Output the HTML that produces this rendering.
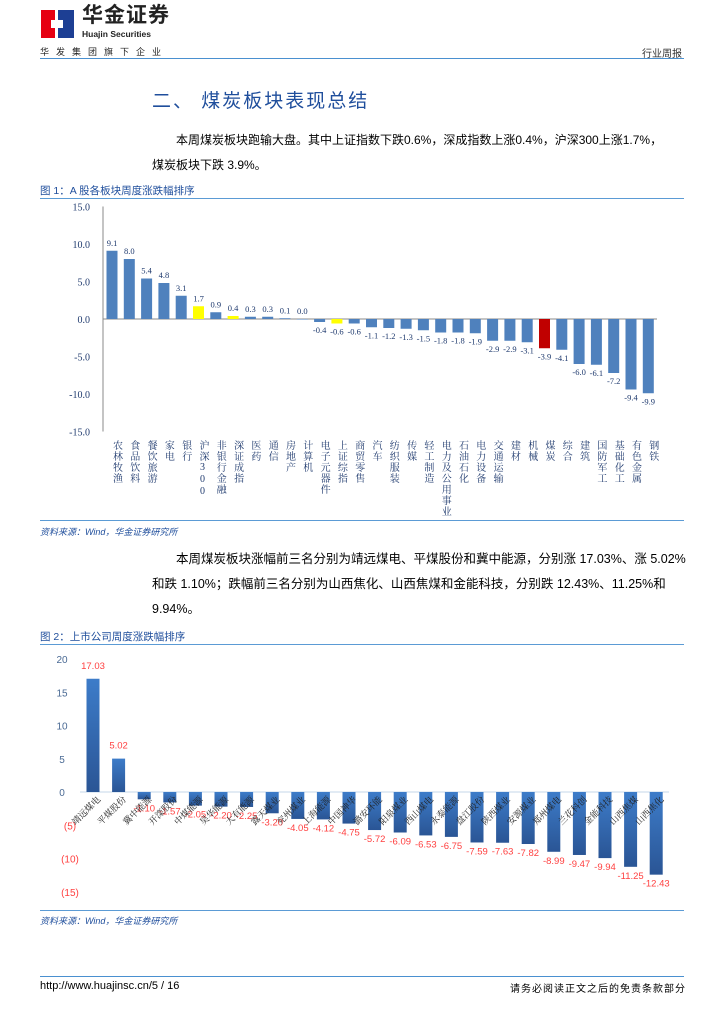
<!DOCTYPE html>
<html><head><meta charset="utf-8">
<style>
*{margin:0;padding:0;box-sizing:border-box}
body{width:724px;height:1024px;background:#fff;position:relative;font-family:"Liberation Sans","Noto Sans CJK SC",sans-serif;overflow:hidden;color:#000}
.abs{position:absolute}
svg text{font-family:"Liberation Serif","Noto Serif CJK SC","Noto Sans CJK SC",serif}
</style></head><body>
<div class="abs" style="left:41px;top:10px;width:33px;height:28px">
 <svg width="33" height="28"><rect x="0" y="0" width="14" height="28" fill="#e60012"/><rect x="17" y="0" width="16" height="28" fill="#1d3f94"/><rect x="10" y="10" width="12" height="8" fill="#fff"/></svg>
</div>
<div class="abs" style="left:82px;top:4px;font-size:21px;line-height:24px;font-weight:bold;letter-spacing:1px;color:#222">华金证券</div>
<div class="abs" style="left:82px;top:29px;font-size:8.5px;line-height:10px;font-weight:bold;color:#222">Huajin Securities</div>
<div class="abs" style="left:40px;top:45px;font-size:9px;letter-spacing:7px;color:#222">华发集团旗下企业</div>
<div class="abs" style="left:642px;top:45px;font-size:10px;color:#333">行业周报</div>
<div class="abs" style="left:40px;top:58px;width:644px;height:1px;background:#4a90d0"></div>

<div class="abs" style="left:152px;top:86px;font-size:19px;color:#1f4e9c;letter-spacing:2px">二、 煤炭板块表现总结</div>
<div class="abs" style="left:152px;top:128px;width:560px;font-size:12px;line-height:25px;white-space:nowrap">&#12288;&#12288;本周煤炭板块跑输大盘。其中上证指数下跌0.6%，深成指数上涨0.4%，沪深300上涨1.7%，<br>煤炭板块下跌 3.9%。</div>

<div class="abs" style="left:40px;top:183px;font-size:10.5px;color:#1f4e9c">图 1：A 股各板块周度涨跌幅排序</div>
<div class="abs" style="left:40px;top:198px;width:644px;height:1px;background:#5b9bd5"></div>
<svg class="abs" id="c1" style="left:0;top:0" width="724" height="540"></svg>
<div class="abs" style="left:40px;top:525px;font-size:9px;color:#1f4e9c;font-style:italic">资料来源：Wind，华金证券研究所</div>
<div class="abs" style="left:40px;top:520px;width:644px;height:1px;background:#5b9bd5"></div>

<div class="abs" style="left:152px;top:547px;width:535px;font-size:12.5px;line-height:25px;text-indent:24px">本周煤炭板块涨幅前三名分别为靖远煤电、平煤股份和冀中能源，分别涨 17.03%、涨 5.02%和跌 1.10%；跌幅前三名分别为山西焦化、山西焦煤和金能科技，分别跌 12.43%、11.25%和 9.94%。</div>

<div class="abs" style="left:40px;top:629px;font-size:10.5px;color:#1f4e9c">图 2：上市公司周度涨跌幅排序</div>
<div class="abs" style="left:40px;top:644px;width:644px;height:1px;background:#5b9bd5"></div>
<svg class="abs" id="c2" style="left:0;top:0" width="724" height="910"></svg>
<div class="abs" style="left:40px;top:910px;width:644px;height:1px;background:#5b9bd5"></div>
<div class="abs" style="left:40px;top:914px;font-size:9px;color:#1f4e9c;font-style:italic">资料来源：Wind，华金证券研究所</div>

<div class="abs" style="left:40px;top:976px;width:644px;height:1px;background:#4a90d0"></div>
<div class="abs" style="left:40px;top:980px;font-size:11px">http://www.huajinsc.cn/5 / 16</div>
<div class="abs" style="left:510px;top:980px;font-size:10px;letter-spacing:1px">请务必阅读正文之后的免责条款部分</div>

<script>
const sectors=["农林牧渔","食品饮料","餐饮旅游","家电","银行","沪深300","非银行金融","深证成指","医药","通信","房地产","计算机","电子元器件","上证综指","商贸零售","汽车","纺织服装","传媒","轻工制造","电力及公用事业","石油石化","电力设备","交通运输","建材","机械","煤炭","综合","建筑","国防军工","基础化工","有色金属","钢铁"];
const sectorValues=[9.1,8.0,5.4,4.8,3.1,1.7,0.9,0.4,0.3,0.3,0.1,0.0,-0.4,-0.6,-0.6,-1.1,-1.2,-1.3,-1.5,-1.8,-1.8,-1.9,-2.9,-2.9,-3.1,-3.9,-4.1,-6.0,-6.1,-7.2,-9.4,-9.9];
const sectorTicks=[15,10,5,0,-5,-10,-15];
const companies=["靖远煤电","平煤股份","冀中能源","开滦股份","中煤能源","昊华能源","大有能源","露天煤业","兖州煤业","上海能源","中国神华","潞安环能","阳泉煤业","西山煤电","永泰能源","盘江股份","陕西煤业","安源煤业","郑州煤电","兰花科创","金能科技","山西焦煤","山西焦化"];
const companyValues=[17.03,5.02,-1.10,-1.57,-2.05,-2.20,-2.25,-3.20,-4.05,-4.12,-4.75,-5.72,-6.09,-6.53,-6.75,-7.59,-7.63,-7.82,-8.99,-9.47,-9.94,-11.25,-12.43];
const companyTicks=[20,15,10,5,0,-5,-10,-15];
const NS="http://www.w3.org/2000/svg";
function mk(p,t,a){const e=document.createElementNS(NS,t);for(const k in a)e.setAttribute(k,a[k]);p.appendChild(e);return e;}

// chart 1
const c1=document.getElementById('c1');
const y1=v=>319-v*7.5;
const x1=i=>112+i*17.3;
mk(c1,'line',{x1:103,y1:y1(15),x2:103,y2:y1(-15),stroke:'#888','stroke-width':1});
mk(c1,'line',{x1:103,y1:y1(0),x2:657,y2:y1(0),stroke:'#888','stroke-width':1});
sectorTicks.forEach(t=>{const tx=mk(c1,'text',{x:90,y:y1(t)+4,'font-size':10,'text-anchor':'end',fill:'#1f3a6e'});tx.textContent=t.toFixed(1);
});
sectors.forEach((s,i)=>{const v=sectorValues[i];let col='#4f81bd';if(s==='沪深300'||s==='深证成指'||s==='上证综指')col='#ffff00';if(s==='煤炭')col='#c00000';
const r=mk(c1,'rect',{x:x1(i)-5.5,y:Math.min(y1(v),y1(0)),width:11,height:Math.max(Math.abs(y1(v)-y1(0)),0.5),fill:col});

const lt=mk(c1,'text',{x:x1(i),y:v>=0?y1(v)-5:y1(v)+11,'font-size':8.5,'text-anchor':'middle',fill:'#1f3a6e'});lt.textContent=v.toFixed(1);

const ct=mk(c1,'text',{x:x1(i)+4,y:440,'font-size':10,fill:'#1f3a6e'});ct.textContent=s;ct.setAttribute('style','writing-mode:vertical-rl;text-orientation:upright;letter-spacing:1px');
});

// chart 2
const c2=document.getElementById('c2');
const y2=v=>792-v*6.65;
const x2=i=>93+i*25.6;
mk(c2,'line',{x1:80,y1:y2(0),x2:669,y2:y2(0),stroke:'#c5d7ea','stroke-width':1});
const gd=mk(c2,'defs',{});const lg=mk(gd,'linearGradient',{id:'bg',x1:0,y1:0,x2:0,y2:1});
mk(lg,'stop',{offset:'0','stop-color':'#3d7cc9'});mk(lg,'stop',{offset:'1','stop-color':'#2a5595'});
companyTicks.forEach(t=>{const tx=mk(c2,'text',{x:t<0?70:62,y:y2(t)+4,'font-size':10,'text-anchor':'middle',fill:t<0?'#ff4040':'#4a6a94'});tx.setAttribute('style','font-family:"Liberation Sans",sans-serif');tx.textContent=t<0?'('+(-t)+')':t;
});
companies.forEach((s,i)=>{const v=companyValues[i];
const r=mk(c2,'rect',{x:x2(i)-6.5,y:Math.min(y2(v),y2(0)),width:13,height:Math.abs(y2(v)-y2(0)),fill:'url(#bg)'});

const lt=mk(c2,'text',{x:x2(i),y:v>=0?y2(v)-10:y2(v)+12,'font-size':9.5,'text-anchor':'middle',fill:'#ff4040'});lt.setAttribute('style','font-family:"Liberation Sans",sans-serif');lt.textContent=v.toFixed(2);

const ct=mk(c2,'text',{x:x2(i)+8,y:y2(0)+8,'font-size':9,'text-anchor':'end',fill:'#222',transform:`rotate(-45 ${x2(i)+8} ${y2(0)+8})`});ct.textContent=s;
});
</script>
</body></html>
